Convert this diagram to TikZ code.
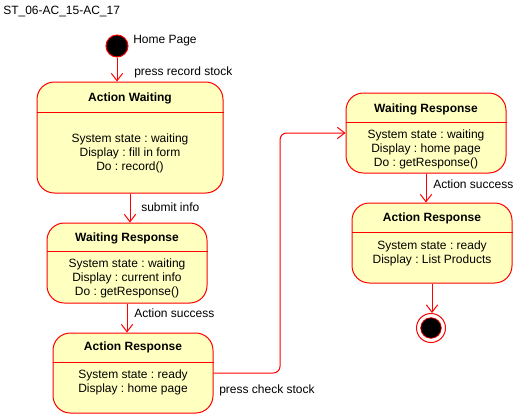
\documentclass[tikz,border=0pt]{standalone}
\usepackage{fontspec}
\setmainfont{Liberation Sans}
\usetikzlibrary{calc}
\usetikzlibrary{arrows.meta}

\definecolor{stfill}{HTML}{FFFFC0}
\definecolor{stline}{HTML}{FF0000}
\newcommand{\diafont}{\fontsize{9}{10.5}\selectfont\frenchspacing}

\tikzset{
 state/.style={draw=stline, fill=stfill, line width=.75pt, rounded corners=13pt, minimum width=120pt, minimum height=60pt, inner sep=0pt},
 stname/.style={font=\diafont\bfseries, inner sep=1pt},
 stbody/.style={font=\diafont, align=center, inner sep=1pt},
 divider/.style={draw=stline, line width=.75pt},
 trans/.style={draw=stline, line width=.75pt, -{Straight Barb[length=5.5pt,width=8.5pt]}},
 lbl/.style={font=\diafont, anchor=west, inner sep=0pt},
}

\begin{document}
\begin{tikzpicture}[x=.75pt, y=-.75pt]
\useasboundingbox (0,0) rectangle (531,414);

\node[lbl] (title) at (3,12) {ST\_06-AC\_15-AC\_17};

% start state
\node[circle, draw=stline, fill=black, line width=.75pt, minimum size=16.5pt, inner sep=0pt] (start) at (117,46) {};
\node[lbl] (homepage) at (133,41) {Home Page};

% left column
\node[state, minimum width=139.5pt, minimum height=83.25pt] (aw) at (130,137.5) {};
\draw[divider] ($(aw.north west)+(0,31)$) -- ($(aw.north east)+(0,31)$);
\node[stname] (awname) at (130,98) {Action Waiting};
\node[stbody] (awbody) at (130,153.5) {System state : waiting\\Display : fill in form\\Do : record()};

\node[state] (wr1) at (127,263) {};
\draw[divider] ($(wr1.north west)+(0,29)$) -- ($(wr1.north east)+(0,29)$);
\node[stname] (wr1name) at (127,238) {Waiting Response};
\node[stbody] (wr1body) at (127,278.5) {System state : waiting\\Display : current info\\Do : getResponse()};

\node[state] (ar1) at (133,373) {};
\draw[divider] ($(ar1.north west)+(0,30)$) -- ($(ar1.north east)+(0,30)$);
\node[stname] (ar1name) at (133,347.5) {Action Response};
\node[stbody] (ar1body) at (133,382) {System state : ready\\Display : home page};

% right column
\node[state] (wr2) at (426,133) {};
\draw[divider] ($(wr2.north west)+(0,30)$) -- ($(wr2.north east)+(0,30)$);
\node[stname] (wr2name) at (426,109) {Waiting Response};
\node[stbody] (wr2body) at (426,149.5) {System state : waiting\\Display : home page\\Do : getResponse()};

\node[state] (ar2) at (432,243) {};
\draw[divider] ($(ar2.north west)+(0,30)$) -- ($(ar2.north east)+(0,30)$);
\node[stname] (ar2name) at (432,218.5) {Action Response};
\node[stbody] (ar2body) at (432,253) {System state : ready\\Display : List Products};

% end state
\node[circle, draw=stline, fill=white, line width=.75pt, minimum size=21.75pt, inner sep=0pt] (end) at (431,328) {};
\node[circle, draw=stline, fill=black, line width=.5pt, minimum size=15.5pt, inner sep=0pt] (endin) at (end) {};

% transitions
\coordinate (bend) at (280,0);
\draw[trans] (start.south) -- (start.south |- aw.north);
\draw[trans] (aw.south) -- (aw.south |- wr1.north);
\draw[trans] (wr1.south) -- (wr1.south |- ar1.north);
\draw[trans, rounded corners=5pt] (ar1.east) -| (bend |- wr2.west) -- (wr2.west);
\draw[trans] (wr2.south) -- (wr2.south |- ar2.north);
\draw[trans] (ar2.south) -- (ar2.south |- end.north);

\node[lbl] (lblrecord) at (134,72) {press record stock};
\node[lbl] (lblsubmit) at (141,207) {submit info};
\node[lbl] (lblsuccess1) at (134,313) {Action success};
\node[lbl] (lblcheck) at (219,390) {press check stock};
\node[lbl] (lblsuccess2) at (433,184) {Action success};
\end{tikzpicture}
\end{document}
